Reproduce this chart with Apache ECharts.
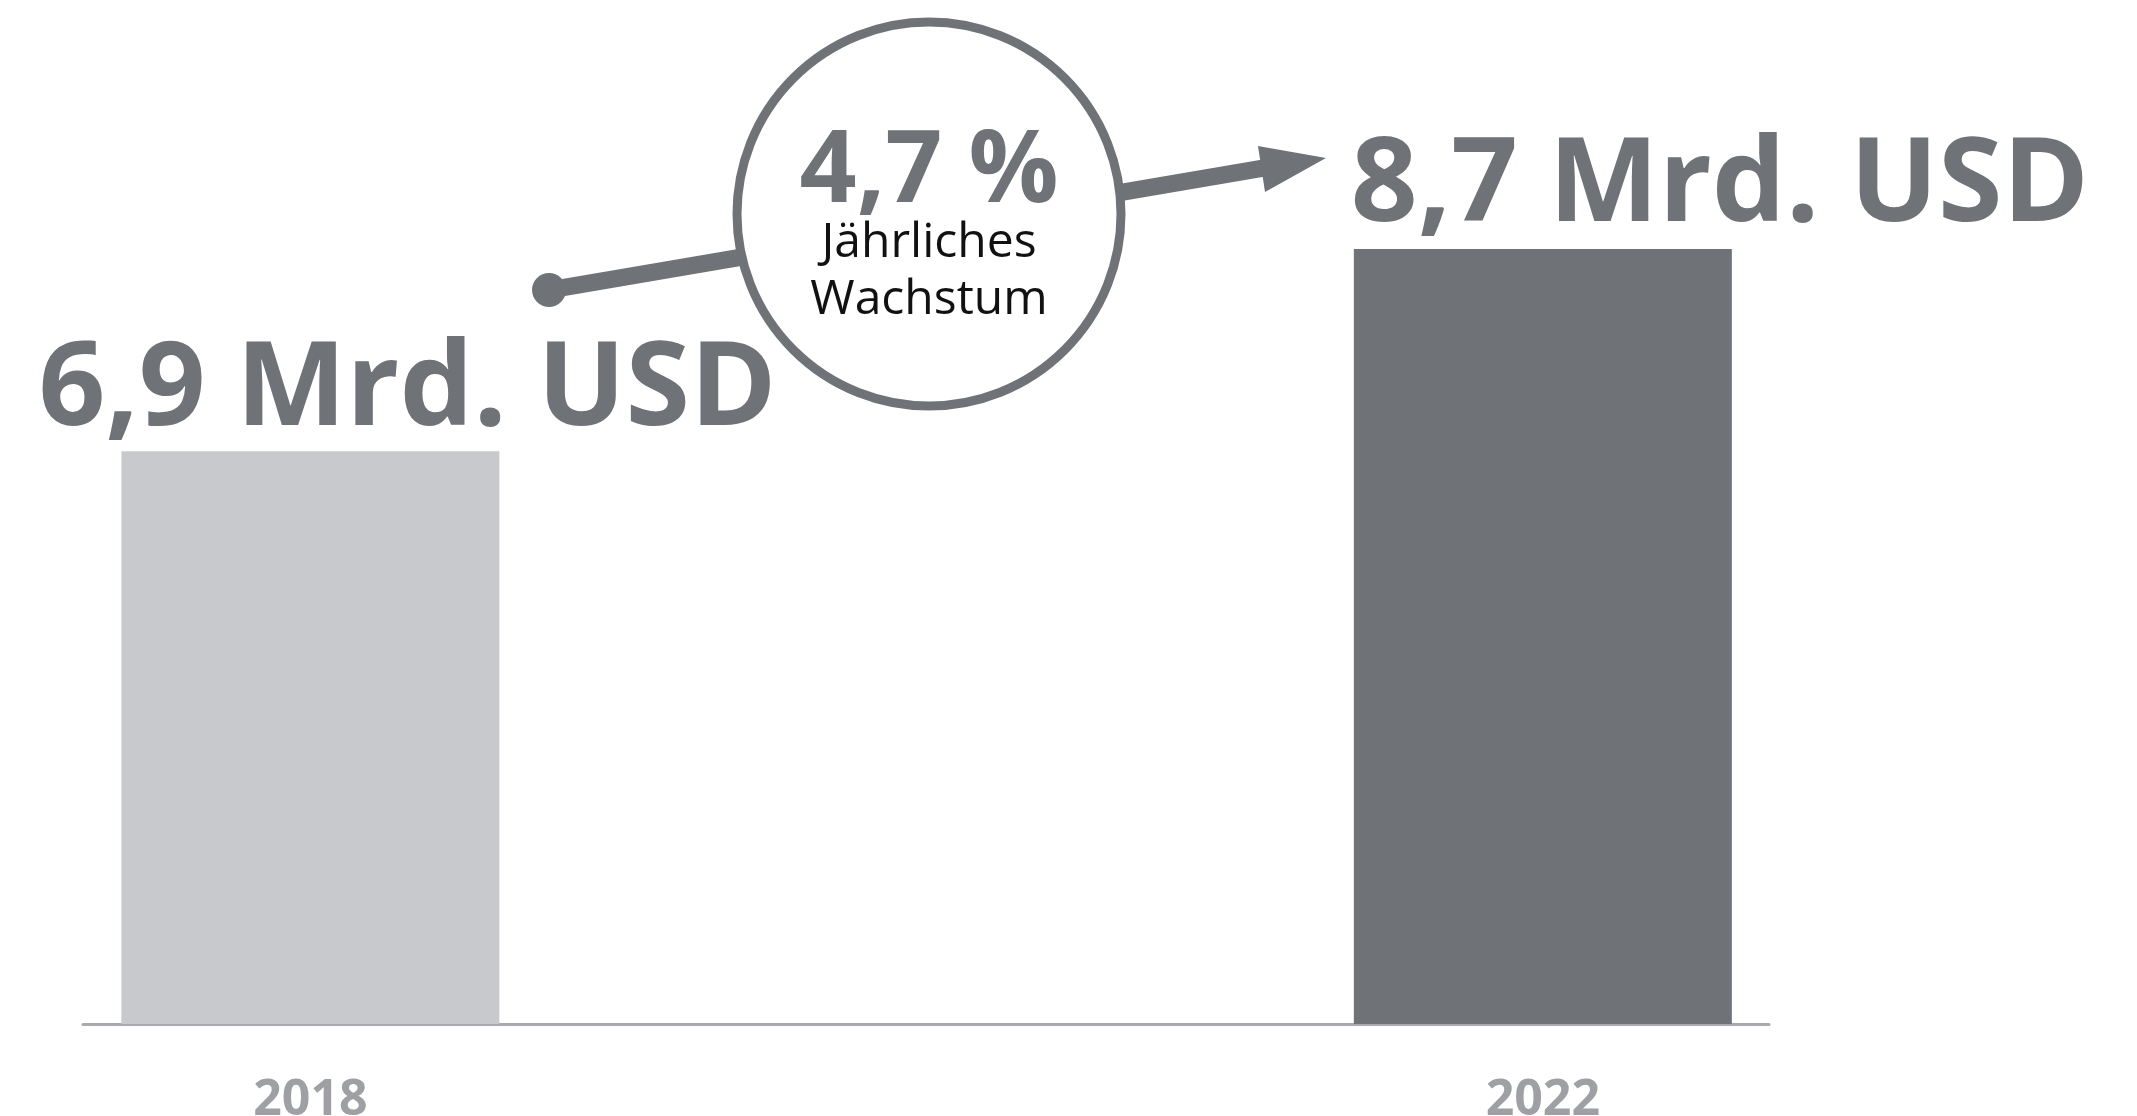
<!DOCTYPE html>
<html lang="de">
<head>
    <meta charset="UTF-8">
    <title>Marktvolumen</title>
    <script src="https://cdn.jsdelivr.net/npm/echarts@6.0.0/dist/echarts.min.js"></script>
    <style>
        body { margin: 0; background: #fff; }
        #chart { width: 2137px; height: 1116px; }
    </style>
</head>
<body>
<div id="chart"></div>

<script>
    // Daten
    var years = [2018, 2022];
    var values = [6.9, 8.7];
    var valueLabels = ['6,9 Mrd. USD', '8,7 Mrd. USD'];
    var barColors = ['#c8c9cc', '#6f7277'];
    var growthText = '4,7 %';
    var growthCaption = ['Jährliches', 'Wachstum'];

    var grey = '#6f7277';
    var font = '"Open Sans", "Noto Sans", sans-serif';

    var myChart = echarts.init(document.getElementById('chart'));

    var seriesData = years.map(function (y, i) {
        return {
            value: [y, values[i]],
            itemStyle: {color: barColors[i]},
            label: {position: i === 0 ? [-83, -60] : [-3, -61]}
        };
    });

    option = {
        animation: false,
        grid: {
            left: 83,
            right: 368,
            top: 103,
            bottom: 92,
            outerBoundsMode: 'none',
            containLabel: false
        },
        xAxis: {
            type: 'value',
            min: 2017.262,
            max: 2022.734,
            axisLine: {show: true, lineStyle: {color: '#a8aaae', width: 3}},
            axisTick: {show: false},
            splitLine: {show: false},
            axisLabel: {
                customValues: years,
                formatter: function (v) { return String(v); },
                margin: 52,
                color: '#9ea0a4',
                fontFamily: font,
                fontWeight: 'bold',
                fontSize: 50
            }
        },
        yAxis: {
            type: 'value',
            min: 1.8,
            max: 10,
            show: false
        },
        series: [{
            type: 'bar',
            barWidth: 378,
            data: seriesData,
            label: {
                show: true,
                align: 'left',
                verticalAlign: 'middle',
                color: grey,
                fontFamily: font,
                fontWeight: 'bold',
                fontSize: 117,
                formatter: function (p) { return valueLabels[p.dataIndex]; }
            }
        }],
        graphic: [
            {
                type: 'line', z: 10,
                shape: {x1: 549, y1: 290, x2: 1264, y2: 168},
                style: {stroke: grey, lineWidth: 17}
            },
            {
                type: 'circle', z: 11,
                shape: {cx: 549, cy: 290, r: 17},
                style: {fill: grey}
            },
            {
                type: 'polygon', z: 11,
                shape: {points: [[1258, 146], [1326, 158], [1265, 192]]},
                style: {fill: grey}
            },
            {
                type: 'circle', z: 12,
                shape: {cx: 929, cy: 214, r: 192},
                style: {fill: '#fff', stroke: grey, lineWidth: 9}
            },
            {
                type: 'text', z: 13,
                style: {
                    text: growthText, x: 929, y: 174,
                    align: 'center', verticalAlign: 'middle',
                    fill: grey, font: 'bold 100px ' + font
                }
            },
            {
                type: 'text', z: 13,
                style: {
                    text: growthCaption[0], x: 929, y: 243,
                    align: 'center', verticalAlign: 'middle',
                    fill: '#111', font: '48px ' + font
                }
            },
            {
                type: 'text', z: 13,
                style: {
                    text: growthCaption[1], x: 929, y: 300,
                    align: 'center', verticalAlign: 'middle',
                    fill: '#111', font: '48px ' + font
                }
            }
        ]
    };

    myChart.setOption(option);
</script>
</body>
</html>
